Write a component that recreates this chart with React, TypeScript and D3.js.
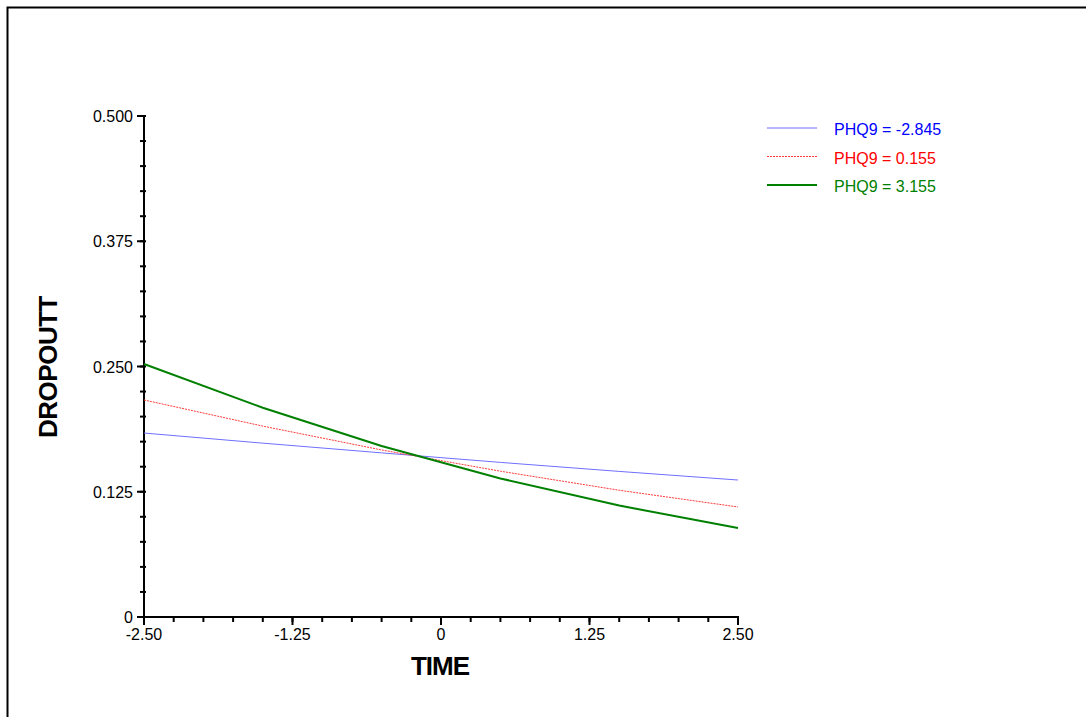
import { useEffect, useRef } from "react";
import * as d3 from "d3";

// TIME values where the model was evaluated
const times = [-2.5, -1.5, -0.5, 0.5, 1.5, 2.5];

// predicted DROPOUTT for each PHQ9 level
const lowPhq = [0.1836, 0.1735, 0.1638, 0.1543, 0.1453, 0.1367];
const midPhq = [0.2166, 0.1905, 0.1667, 0.1455, 0.1265, 0.1098];
const highPhq = [0.2525, 0.2088, 0.1706, 0.1383, 0.1112, 0.0888];

const legendLabels = ["PHQ9 = -2.845", "PHQ9 = 0.155", "PHQ9 = 3.155"];
const xTickLabels = ["-2.50", "-1.25", "0", "1.25", "2.50"];
const yTickLabels = ["0", "0.125", "0.250", "0.375", "0.500"];

const FONT = "Arial, 'Liberation Sans', sans-serif";

const App = () => {
  const chartRef = useRef<SVGSVGElement | null>(null);

  useEffect(() => {
    const svg = d3.select(chartRef.current);
    svg.selectAll("*").remove();

    const left = 144;
    const right = 738;
    const top = 116;
    const bottom = 617;

    // outer frame
    svg
      .append("rect")
      .attr("x", 7.5)
      .attr("y", 7.5)
      .attr("width", 1080)
      .attr("height", 800)
      .attr("fill", "none")
      .attr("stroke", "#000")
      .attr("stroke-width", 2);

    const xScale = d3.scaleLinear().domain([-2.5, 2.5]).range([left, right]);
    const yScale = d3.scaleLinear().domain([0, 0.5]).range([bottom, top]);

    const g = svg.append("g");

    // minor ticks
    const xMinor = d3.range(-2.5, 2.5001, 0.25);
    g.selectAll(".xminor")
      .data(xMinor)
      .enter()
      .append("line")
      .attr("x1", (d) => xScale(d))
      .attr("x2", (d) => xScale(d))
      .attr("y1", bottom)
      .attr("y2", bottom + 5)
      .attr("stroke", "#000")
      .attr("stroke-width", 2);

    const yMinor = d3.range(0, 0.5001, 0.025);
    g.selectAll(".yminor")
      .data(yMinor)
      .enter()
      .append("line")
      .attr("x1", left - 4)
      .attr("x2", left + 2)
      .attr("y1", (d) => yScale(d))
      .attr("y2", (d) => yScale(d))
      .attr("stroke", "#000")
      .attr("stroke-width", 2);

    // major ticks + labels
    const xMajor = xTickLabels.map((t) => +t);
    g.selectAll(".xmajor")
      .data(xMajor)
      .enter()
      .append("line")
      .attr("x1", (d) => xScale(d))
      .attr("x2", (d) => xScale(d))
      .attr("y1", bottom)
      .attr("y2", bottom + 8)
      .attr("stroke", "#000")
      .attr("stroke-width", 2);

    g.selectAll(".xlabel")
      .data(xTickLabels)
      .enter()
      .append("text")
      .attr("x", (d) => xScale(+d))
      .attr("y", bottom + 23)
      .attr("text-anchor", "middle")
      .attr("font-family", FONT)
      .attr("font-size", 16)
      .text((d) => d);

    const yMajor = yTickLabels.map((t) => +t);
    g.selectAll(".ymajor")
      .data(yMajor)
      .enter()
      .append("line")
      .attr("x1", left - 7)
      .attr("x2", left)
      .attr("y1", (d) => yScale(d))
      .attr("y2", (d) => yScale(d))
      .attr("stroke", "#000")
      .attr("stroke-width", 2);

    g.selectAll(".ylabel")
      .data(yTickLabels)
      .enter()
      .append("text")
      .attr("x", left - 11)
      .attr("y", (d) => yScale(+d) + 6)
      .attr("text-anchor", "end")
      .attr("font-family", FONT)
      .attr("font-size", 16)
      .text((d) => d);

    // axis lines
    g.append("line")
      .attr("x1", left)
      .attr("x2", left)
      .attr("y1", top - 1)
      .attr("y2", bottom + 1)
      .attr("stroke", "#000")
      .attr("stroke-width", 2);
    g.append("line")
      .attr("x1", left - 1)
      .attr("x2", right + 1)
      .attr("y1", bottom)
      .attr("y2", bottom)
      .attr("stroke", "#000")
      .attr("stroke-width", 2);

    // axis titles
    g.append("text")
      .attr("x", 440)
      .attr("y", 675)
      .attr("text-anchor", "middle")
      .attr("font-family", FONT)
      .attr("font-weight", "bold")
      .attr("font-size", 26)
      .attr("letter-spacing", -1)
      .text("TIME");

    g.append("text")
      .attr("transform", "translate(57, 367) rotate(-90)")
      .attr("text-anchor", "middle")
      .attr("font-family", FONT)
      .attr("font-weight", "bold")
      .attr("font-size", 26)
      .attr("letter-spacing", -0.5)
      .text("DROPOUTT");

    // series
    const series = [
      { values: lowPhq, color: "#6f6fff", width: 1, dash: null, text: "#0000ff" },
      { values: midPhq, color: "#ff3a3a", width: 1, dash: "2,1", text: "#ff0000" },
      { values: highPhq, color: "#008000", width: 2, dash: null, text: "#008000" },
    ];

    const line = d3
      .line<number>()
      .x((_, i) => xScale(times[i]))
      .y((d) => yScale(d));

    series.forEach((s, i) => {
      g.append("path")
        .datum(s.values)
        .attr("d", line)
        .attr("fill", "none")
        .attr("stroke", s.color)
        .attr("stroke-width", s.width)
        .attr("stroke-dasharray", s.dash);

      const ly = 128 + i * 28.5;
      g.append("line")
        .attr("x1", 767)
        .attr("x2", 817)
        .attr("y1", ly)
        .attr("y2", ly)
        .attr("stroke", s.color)
        .attr("stroke-width", s.width)
        .attr("stroke-dasharray", s.dash);

      g.append("text")
        .attr("x", 834)
        .attr("y", ly + 7)
        .attr("font-family", FONT)
        .attr("font-size", 16)
        .attr("fill", s.text)
        .attr("xml:space", "preserve")
        .text(legendLabels[i]);
    });
  }, []);

  return (
    <svg
      ref={chartRef}
      width={1086}
      height={717}
      style={{ position: "absolute", left: 0, top: 0, background: "#fff" }}
    />
  );
};

export default App;
